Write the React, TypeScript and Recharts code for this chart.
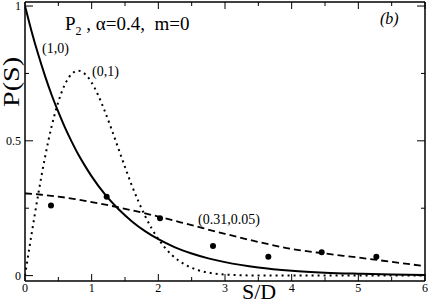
import { ComposedChart, Line, Scatter, XAxis, YAxis } from 'recharts';

// x ticks every 0.5, labels on integers only
const xTicks = [0, 0.5, 1, 1.5, 2, 2.5, 3, 3.5, 4, 4.5, 5, 5.5, 6];
const yTicks = [0, 0.25, 0.5, 0.75, 1];
const yLabels: Record<number, string> = { 0: '0', 0.5: '0.5', 1: '1' };

// (1,0) solid curve
const solidS = [0, 0.1, 0.2, 0.3, 0.4, 0.5, 0.6, 0.7, 0.8, 0.9, 1, 1.2, 1.4, 1.6, 1.8, 2, 2.25, 2.5, 2.75, 3, 3.5, 4, 4.5, 5, 5.5, 6];
const solidP = [1, 0.905, 0.819, 0.741, 0.67, 0.607, 0.549, 0.497, 0.449, 0.407, 0.368, 0.301, 0.247, 0.202, 0.165, 0.135, 0.105, 0.082, 0.064, 0.05, 0.03, 0.018, 0.011, 0.007, 0.004, 0.0025];

// (0,1) dotted curve
const dottedS = [0, 0.1, 0.2, 0.3, 0.4, 0.5, 0.6, 0.7, 0.8, 0.9, 1, 1.1, 1.2, 1.3, 1.4, 1.5, 1.6, 1.7, 1.8, 1.9, 2, 2.2, 2.4, 2.6, 2.8, 3, 3.5, 4, 5, 6];
const dottedP = [0, 0.156, 0.304, 0.439, 0.554, 0.645, 0.71, 0.748, 0.76, 0.748, 0.716, 0.668, 0.608, 0.542, 0.472, 0.403, 0.336, 0.276, 0.222, 0.175, 0.136, 0.077, 0.041, 0.02, 0.009, 0.004, 0.0003, 0, 0, 0];

// (0.31,0.05) dashed curve
const dashedS = [0, 0.25, 0.5, 0.75, 1, 1.25, 1.5, 1.75, 2, 2.5, 3, 3.5, 4, 4.5, 5, 5.5, 6];
const dashedP = [0.305, 0.3, 0.293, 0.284, 0.273, 0.261, 0.248, 0.234, 0.219, 0.187, 0.155, 0.125, 0.099, 0.082, 0.067, 0.051, 0.035];

// filled circles
const pointS = [0.39, 1.225, 2.025, 2.82, 3.65, 4.45, 5.27];
const pointP = [0.26, 0.293, 0.213, 0.11, 0.07, 0.087, 0.07];

const toRows = (s: number[], p: number[]) => s.map((v, i) => ({ s: v, p: p[i] }));

const solidData = toRows(solidS, solidP);
const dottedData = toRows(dottedS, dottedP);
const dashedData = toRows(dashedS, dashedP);
const pointData = toRows(pointS, pointP);

const FONT = '"Liberation Serif", "Times New Roman", serif';

const BottomTick = (props: any) => {
  const { x, y, payload } = props;
  const v = payload.value;
  const major = Number.isInteger(v);
  return (
    <g>
      <line x1={x} x2={x} y1={y} y2={y - (major ? 7 : 4)} stroke="#000" strokeWidth={1} />
      {major && (
        <text x={x} y={y + 11} textAnchor="middle" fontSize={12} fontFamily={FONT} fill="#000">
          {v}
        </text>
      )}
    </g>
  );
};

const TopTick = (props: any) => {
  const { x, y, payload } = props;
  const major = Number.isInteger(payload.value);
  return <line x1={x} x2={x} y1={y} y2={y + (major ? 7 : 4)} stroke="#000" strokeWidth={1} />;
};

const LeftTick = (props: any) => {
  const { x, y, payload } = props;
  const v = payload.value;
  const label = yLabels[v];
  return (
    <g>
      <line x1={x} x2={x + (label ? 8 : 4)} y1={y} y2={y} stroke="#000" strokeWidth={1} />
      {label && (
        <text x={x - 4} y={y + 4} textAnchor="end" fontSize={12} fontFamily={FONT} fill="#000">
          {label}
        </text>
      )}
    </g>
  );
};

const RightTick = (props: any) => {
  const { x, y, payload } = props;
  const major = yLabels[payload.value] !== undefined;
  return <line x1={x} x2={x - (major ? 8 : 4)} y1={y} y2={y} stroke="#000" strokeWidth={1} />;
};

const Dot = (props: any) => <circle cx={props.cx} cy={props.cy} r={3} fill="#000" />;

export default function App() {
  const axisLine = { stroke: '#000', strokeWidth: 1.5 };
  return (
    <div style={{ position: 'absolute', left: 0, top: 0, width: 429, height: 303, background: '#fff' }}>
      <ComposedChart width={429} height={303} margin={{ top: 0, right: 0, bottom: 0, left: 0 }}>
        <XAxis
          xAxisId="bottom"
          dataKey="s"
          type="number"
          domain={[0, 6]}
          ticks={xTicks}
          allowDataOverflow
          height={22}
          tickSize={0}
          tickMargin={0}
          tickLine={false}
          axisLine={axisLine}
          tick={<BottomTick />}
          interval={0}
        />
        <XAxis
          xAxisId="top"
          orientation="top"
          dataKey="s"
          type="number"
          domain={[0, 6]}
          ticks={xTicks}
          allowDataOverflow
          height={2}
          tickSize={0}
          tickMargin={0}
          tickLine={false}
          axisLine={axisLine}
          tick={<TopTick />}
          interval={0}
        />
        <YAxis
          yAxisId="left"
          dataKey="p"
          type="number"
          domain={[-0.02, 1.015]}
          ticks={yTicks}
          allowDataOverflow
          width={25}
          tickSize={0}
          tickMargin={0}
          tickLine={false}
          axisLine={axisLine}
          tick={<LeftTick />}
          interval={0}
        />
        <YAxis
          yAxisId="right"
          orientation="right"
          type="number"
          domain={[-0.02, 1.015]}
          ticks={yTicks}
          allowDataOverflow
          width={4}
          tickSize={0}
          tickMargin={0}
          tickLine={false}
          axisLine={axisLine}
          tick={<RightTick />}
          interval={0}
        />
        <Line
          xAxisId="bottom"
          yAxisId="left"
          data={solidData}
          dataKey="p"
          type="monotone"
          stroke="#000"
          strokeWidth={2}
          dot={false}
          isAnimationActive={false}
        />
        <Line
          xAxisId="bottom"
          yAxisId="left"
          data={dottedData}
          dataKey="p"
          type="monotone"
          stroke="#000"
          strokeWidth={2}
          strokeDasharray="2 4"
          dot={false}
          isAnimationActive={false}
        />
        <Line
          xAxisId="bottom"
          yAxisId="left"
          data={dashedData}
          dataKey="p"
          type="monotone"
          stroke="#000"
          strokeWidth={1.8}
          strokeDasharray="7 4"
          dot={false}
          isAnimationActive={false}
        />
        <Scatter
          xAxisId="bottom"
          yAxisId="left"
          data={pointData}
          dataKey="p"
          shape={<Dot />}
          isAnimationActive={false}
        />
      </ComposedChart>
      <svg
        width={429}
        height={303}
        style={{ position: 'absolute', left: 0, top: 0, pointerEvents: 'none' }}
        fontFamily={FONT}
      >
        <text x={65} y={30} fontSize={19} fill="#000" style={{ whiteSpace: 'pre' }}>
          P<tspan fontSize={12} dy={5}>2</tspan>
          <tspan dy={-5}>{' , \u03b1=0.4,  m=0'}</tspan>
        </text>
        <text x={380} y={24} fontSize={16} fontStyle="italic" fill="#000">(b)</text>
        <text x={42} y={53} fontSize={14} fill="#000">(1,0)</text>
        <text x={92} y={76} fontSize={14} fill="#000">(0,1)</text>
        <text x={198} y={224} fontSize={14} fill="#000">(0.31,0.05)</text>
        <text x={242} y={299} fontSize={22} fill="#000">S/D</text>
        <text
          x={0}
          y={0}
          fontSize={23}
          fill="#000"
          textAnchor="middle"
          textLength={50}
          lengthAdjust="spacingAndGlyphs"
          transform="translate(19 82) rotate(-90)"
        >
          P(S)
        </text>
      </svg>
    </div>
  );
}
